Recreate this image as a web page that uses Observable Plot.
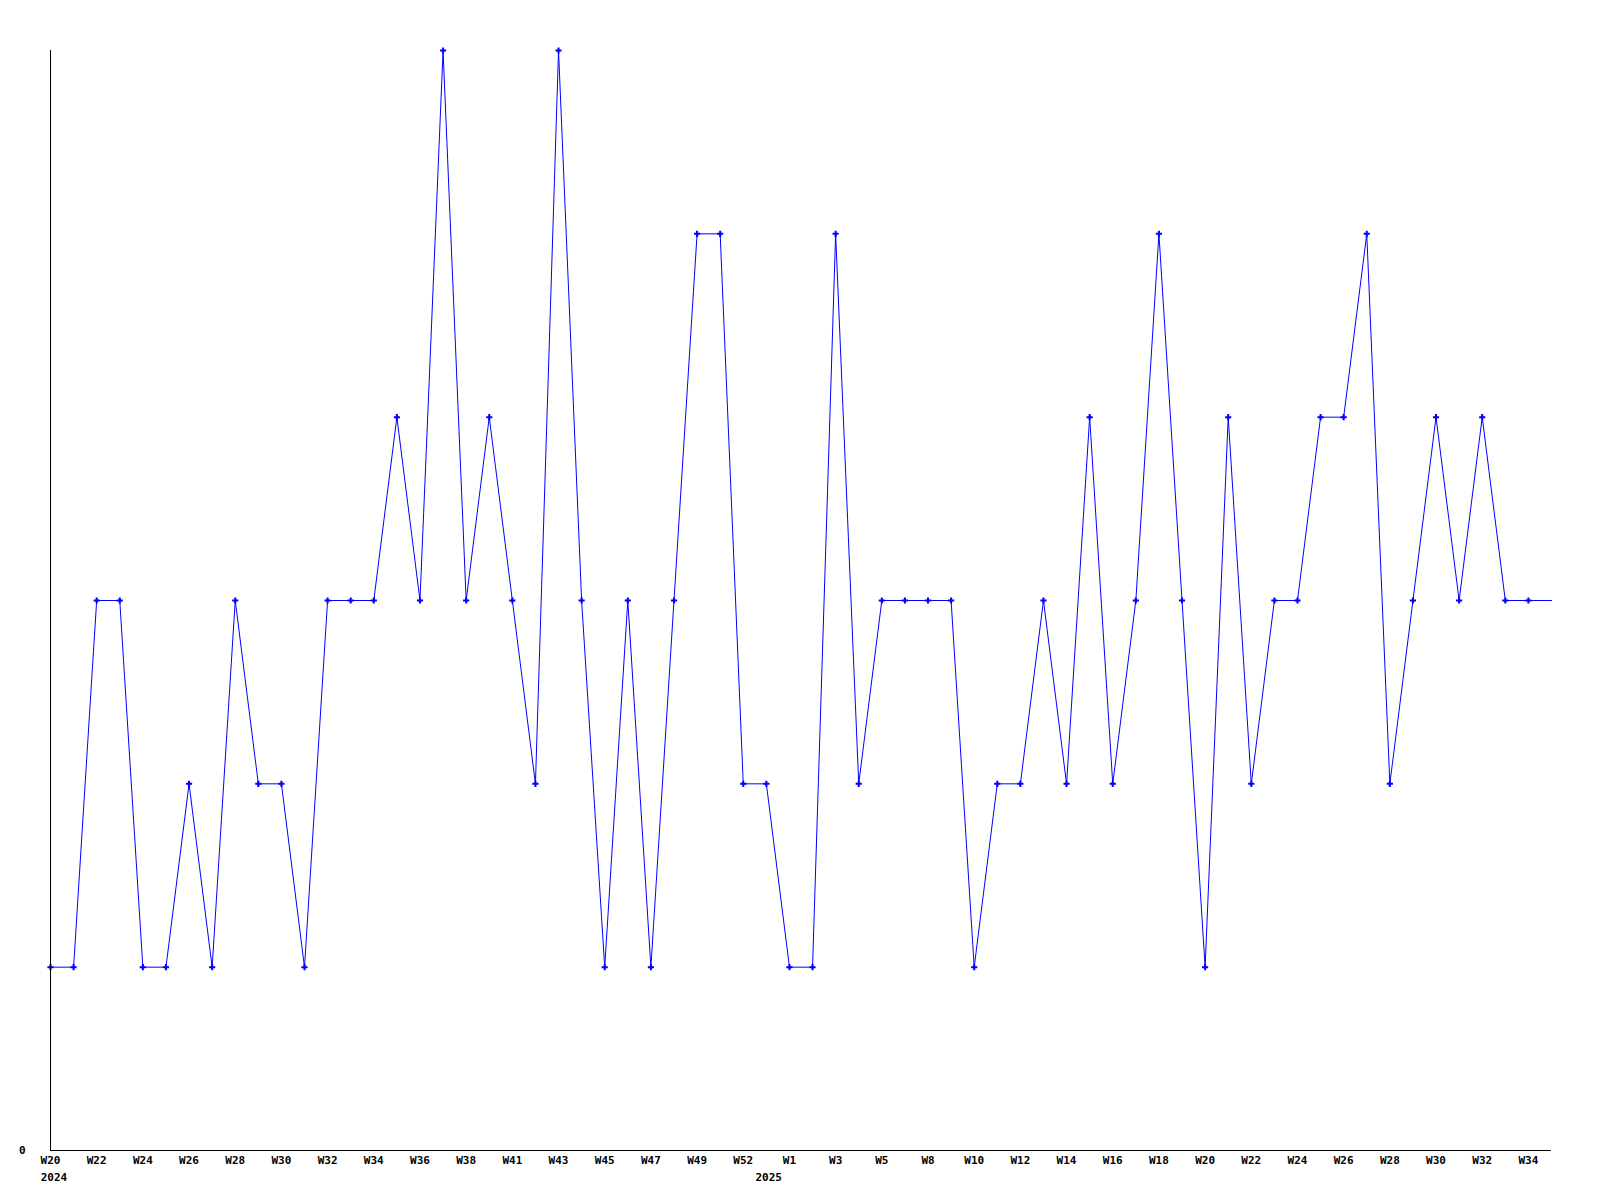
<!DOCTYPE html>
<html>
<head>
<meta charset="utf-8">
<script src="https://cdn.jsdelivr.net/npm/d3@7"></script>
<script src="https://cdn.jsdelivr.net/npm/@observablehq/plot@0.6"></script>
<style>
  html, body { margin: 0; padding: 0; background: #fff; }
  #chart svg { display: block; }
</style>
</head>
<body>
<div id="chart"></div>
<script>
// Weekly values (one point per week, W20 2024 onwards)
const values = [1,1,3,3,1,1,2,1,3,2,
                2,1,3,3,3,4,3,6,3,4,
                3,2,6,3,1,3,1,3,5,5,
                2,2,1,1,5,2,3,3,3,3,
                1,2,2,3,2,4,2,3,5,3,
                1,4,2,3,3,4,4,5,2,3,
                4,3,4,3,3,3];
// Tick labels, one every second point
const tickLabels = ["W20","W22","W24","W26","W28","W30","W32","W34","W36","W38",
                    "W41","W43","W45","W47","W49","W52","W1","W3","W5","W8",
                    "W10","W12","W14","W16","W18","W20","W22","W24","W26","W28",
                    "W30","W32","W34"];
const yearLabels = ["2024", "2025"];
const yearPositions = [0.15, 31.1];

const data = values.map((v, i) => ({i, v}));
const tickPos = tickLabels.map((_, k) => 2 * k);
const years = yearLabels.map((t, k) => ({t, x: yearPositions[k]}));

const chart = Plot.plot({
  width: 1600,
  height: 1200,
  marginLeft: 50,
  marginRight: 49,
  marginTop: 50,
  marginBottom: 50,
  style: {fontFamily: "'DejaVu Sans Mono', monospace", fontSize: "11px", fontWeight: "bold", color: "#000", background: "#fff"},
  x: {domain: [0, values.length - 1]},
  y: {domain: [0, 6]},
  marks: [
    Plot.axisX({ticks: tickPos, tickFormat: (d) => tickLabels[d / 2], tickSize: 0, tickPadding: 6, label: null, fill: "#000"}),
    Plot.axisY({ticks: [0], tickFormat: (d) => String(d), tickSize: 0, tickPadding: 25, label: null, fill: "#000"}),
    Plot.text(years, {x: "x", text: "t", frameAnchor: "bottom", dy: 27, lineAnchor: "middle", fill: "#000"}),
    Plot.line(data, {x: "i", y: "v", stroke: "#0000ff", strokeWidth: 1}),
    Plot.dot(data, {filter: (d) => d.i < values.length - 1, x: "i", y: "v", symbol: "cross", r: 2.6, fill: "#0000ff", stroke: "none"}),
    Plot.ruleX([0], {stroke: "#000", strokeWidth: 1}),
    Plot.ruleY([0], {stroke: "#000", strokeWidth: 1})
  ]
});
document.getElementById("chart").appendChild(chart);
</script>
</body>
</html>
